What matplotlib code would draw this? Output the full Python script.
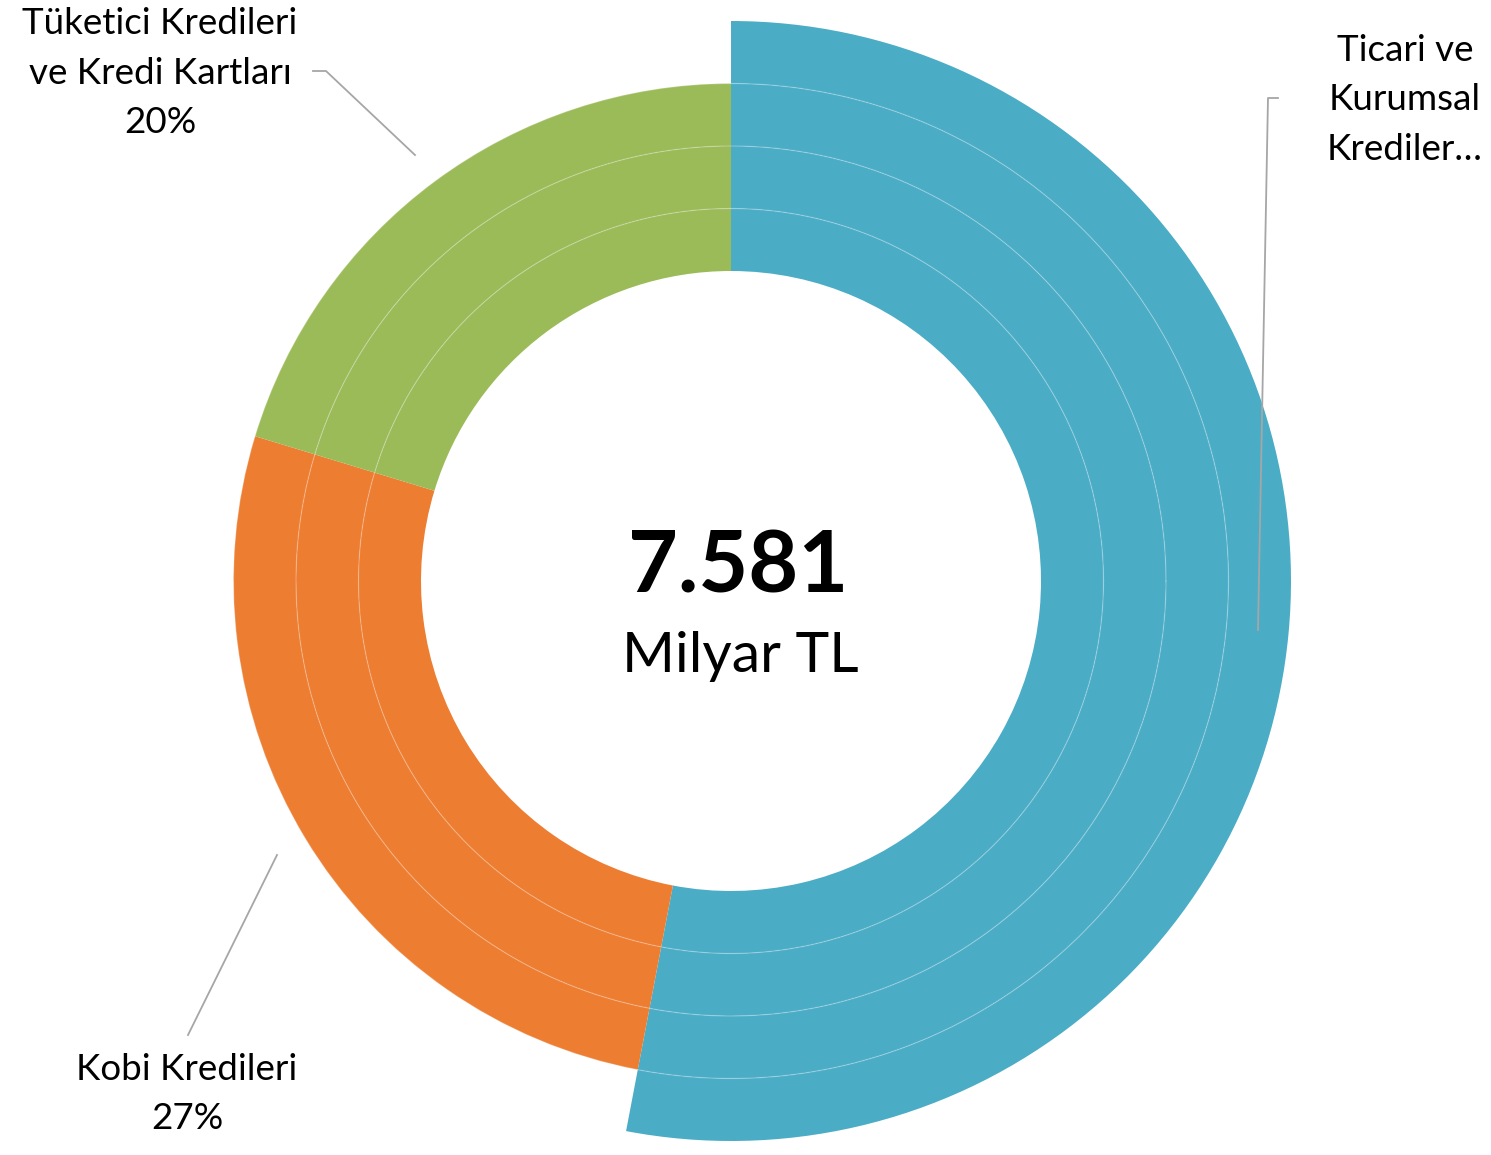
import matplotlib.pyplot as plt
import numpy as np

plt.rcParams['font.family'] = ['Lato', 'DejaVu Sans']

# data
categories = ["Ticari ve Kurumsal Krediler", "Kobi Kredileri", "Tüketici Kredileri ve Kredi Kartları"]
shares = [53.0, 26.7, 20.3]
colors = ["#4BACC6", "#ED7D31", "#9BBB59"]
total_label = "7.581"
unit_label = "Milyar TL"

W, H = 1491, 1155


def up(y):
    # convert top-down pixel y to axes y
    return H - y


fig = plt.figure(figsize=(W / 100, H / 100), dpi=100)
ax = fig.add_axes([0, 0, 1, 1])

center = (731, up(581))
r_inner = 310
ring_w = 62.5

# three full rings
for i in range(3):
    ax.pie(shares, colors=colors, radius=r_inner + (i + 1) * ring_w, center=center,
           startangle=90, counterclock=False,
           wedgeprops=dict(width=ring_w, linewidth=0))

# outer ring only for the largest segment
ax.pie([shares[0], sum(shares) - shares[0]], colors=[colors[0], "none"],
       radius=r_inner + 4 * ring_w, center=center, startangle=90, counterclock=False,
       wedgeprops=dict(width=ring_w, linewidth=0))

# faint boundaries between rings
theta = np.linspace(0, 2 * np.pi, 720)
for i in range(1, 4):
    r = r_inner + i * ring_w
    ax.plot(center[0] + r * np.cos(theta), center[1] + r * np.sin(theta),
            color="white", alpha=0.25, lw=0.9)

# center text
ax.text(738, up(568), total_label, ha="center", va="center", fontsize=62, fontweight="bold")
ax.text(740, up(656), unit_label, ha="center", va="center", fontsize=41)

# labels with leader lines
lab_kw = dict(ha="center", va="center", fontsize=26.5, linespacing=1.6)
ax.text(160, up(73), "Tüketici Kredileri\nve Kredi Kartları\n20%", **lab_kw)
ax.text(1405, up(100), "Ticari ve\nKurumsal\nKrediler…", **lab_kw)
ax.text(187, up(1094), "Kobi Kredileri\n27%", **lab_kw)

line_kw = dict(color="#A6A6A6", lw=1.3)
ax.plot([313, 326, 415], [up(71), up(71), up(155)], **line_kw)
ax.plot([1278, 1268, 1258], [up(98), up(98), up(630)], **line_kw)
ax.plot([188, 277], [up(1035), up(855)], **line_kw)

ax.set_xlim(0, W)
ax.set_ylim(0, H)
ax.set_aspect("equal")
ax.axis("off")

fig.savefig("out.png", dpi=100, facecolor="white")
